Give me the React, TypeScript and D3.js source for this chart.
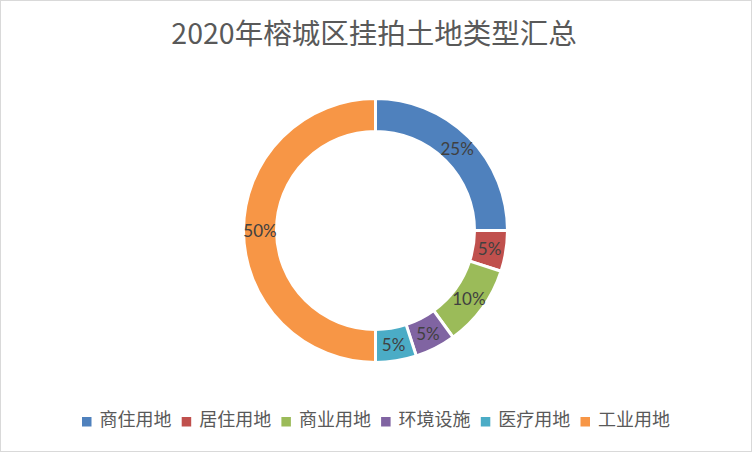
import React from "react";
import * as d3 from "d3";

const categories = ["商住用地", "居住用地", "商业用地", "环境设施", "医疗用地", "工业用地"];
const values = [25, 5, 10, 5, 5, 50];
const colors = ["#4F81BD", "#C0504D", "#9BBB59", "#8064A2", "#4BACC6", "#F79646"];
const title = "2020年榕城区挂拍土地类型汇总";

const W = 752;
const H = 452;
const cx = 375.5;
const cy = 230.5;
const outerR = 132;
const innerR = 99;

export default function App() {
  const total = d3.sum(values);
  const pie = d3.pie<number>().sort(null).value((d) => d);
  const arcs = pie(values);
  const arc = d3.arc<d3.PieArcDatum<number>>().innerRadius(innerR).outerRadius(outerR);
  const labelArc = d3.arc<d3.PieArcDatum<number>>().innerRadius(115.5).outerRadius(115.5);
  const fmt = d3.format(".0%");
  const legendX = d3.scaleLinear().domain([0, 5]).range([82, 580.5]);
  return (
    <svg
      width={W}
      height={H}
      style={{ position: "absolute", left: 0, top: 0, background: "#fff" }}
    >
      <rect x={0.5} y={0.5} width={W - 1} height={H - 1} fill="#fff" stroke="#D9D9D9" />
      <text
        x={374}
        y={43.5}
        textAnchor="middle"
        fontSize={28.5}
        fill="#595959"
        fontFamily="'Noto Sans CJK SC', sans-serif"
      >
        {title}
      </text>
      <g transform={`translate(${cx},${cy})`}>
        {arcs.map((a, i) => (
          <path key={i} d={arc(a) || ""} fill={colors[i]} stroke="#fff" strokeWidth={3} />
        ))}
        {arcs.map((a, i) => {
          const [x, y] = labelArc.centroid(a);
          return (
            <text
              key={"l" + i}
              x={x}
              y={y}
              dy="0.36em"
              textAnchor="middle"
              fontSize={17}
              fill="#404040"
              fontFamily="Lato, 'Noto Sans', sans-serif"
            >
              {fmt(a.data / total)}
            </text>
          );
        })}
      </g>
      <g>
        {categories.map((c, i) => (
          <g key={c} transform={`translate(${legendX(i)},0)`}>
            <rect x={0} y={417} width={9.5} height={9.5} fill={colors[i]} />
            <text
              x={17.5}
              y={426}
              fontSize={18}
              fill="#595959"
              fontFamily="'Noto Sans CJK SC', sans-serif"
            >
              {c}
            </text>
          </g>
        ))}
      </g>
    </svg>
  );
}
